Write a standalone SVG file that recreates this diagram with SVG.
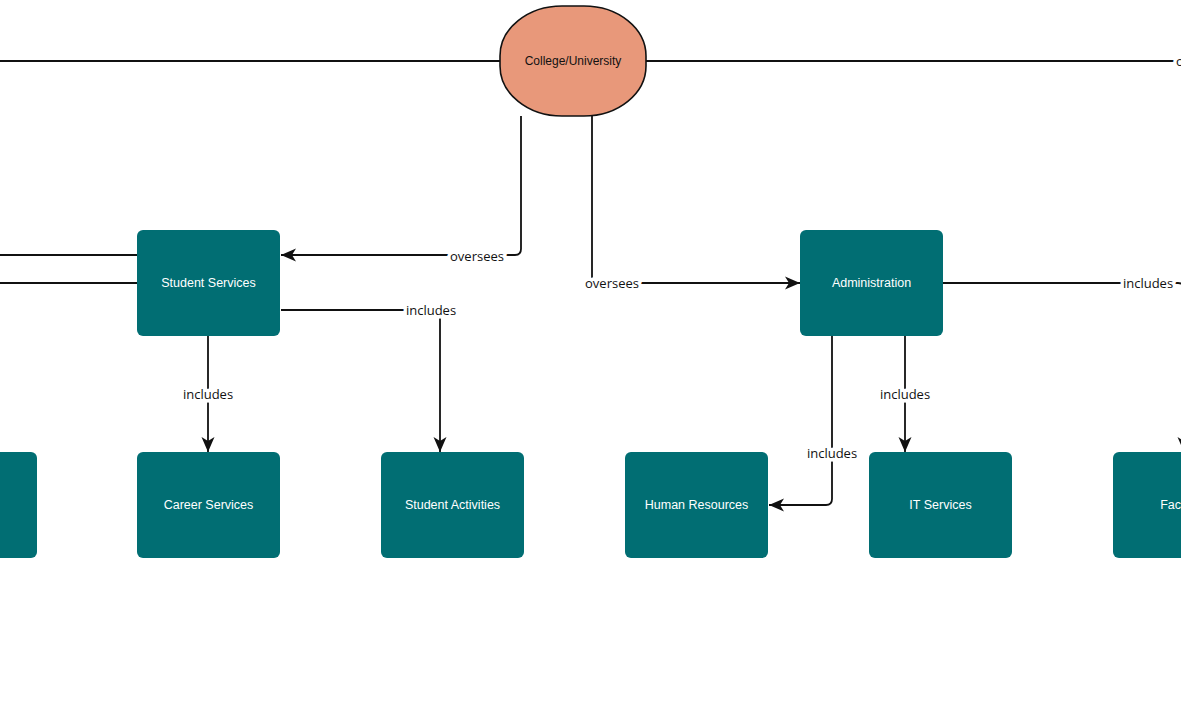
<svg xmlns="http://www.w3.org/2000/svg" width="1181" height="720" viewBox="0 0 1181 720">
<style>
.node{fill:#016e73;}
.ntxt{font-family:"Liberation Sans",Arial,sans-serif;font-size:12.5px;fill:#ffffff;text-anchor:middle;dominant-baseline:central;}
.edge{fill:none;stroke:#111111;stroke-width:1.8;}
.lbl{font-family:"Open Sans","Noto Sans",sans-serif;font-size:13px;fill:#111111;text-anchor:middle;dominant-baseline:central;paint-order:stroke;stroke:#ffffff;stroke-width:7px;stroke-linejoin:round;}
</style>
<defs>
<marker id="arr" markerUnits="userSpaceOnUse" markerWidth="16" markerHeight="16" viewBox="0 0 16 16" refX="15" refY="8" orient="auto">
<path d="M0,1.5 L15,8 L0,14.5 L4,8 Z" fill="#111111"/>
</marker>
</defs>
<rect width="1181" height="720" fill="#ffffff"/>
<g id="connectors">
<path class="edge" d="M0,61 H500"/>
<path class="edge" d="M646,61 H1174"/>
<path class="edge" d="M0,255 H137"/>
<path class="edge" d="M0,283 H137"/>
<path class="edge" d="M521,116 V249 Q521,255 515,255 H281" marker-end="url(#arr)"/>
<path class="edge" d="M592,116 V283 H800" marker-end="url(#arr)"/>
<path class="edge" d="M281,310 H434 Q440,310 440,316 V452" marker-end="url(#arr)"/>
<path class="edge" d="M208,336 V452" marker-end="url(#arr)"/>
<path class="edge" d="M905,336 V452" marker-end="url(#arr)"/>
<path class="edge" d="M832,336 V499 Q832,505 826,505 H769" marker-end="url(#arr)"/>
<path class="edge" d="M943,283 H1178 Q1184,283 1184,289 V452" marker-end="url(#arr)"/>
<text class="lbl" x="477" y="256">oversees</text>
<text class="lbl" x="612" y="283">oversees</text>
<text class="lbl" x="431" y="310">includes</text>
<text class="lbl" x="208" y="394">includes</text>
<text class="lbl" x="905" y="394">includes</text>
<text class="lbl" x="832" y="453">includes</text>
<text class="lbl" x="1148" y="283">includes</text>
<text class="lbl" x="1176" y="61" style="text-anchor:start">oversees</text>
</g>
<g id="college">
<rect x="500" y="6" width="146" height="110" rx="62" ry="50" fill="#e8987a" stroke="#111111" stroke-width="1.6"/>
<text x="573" y="61" style="font-family:'Liberation Sans',Arial,sans-serif;font-size:12px;fill:#111111;text-anchor:middle;dominant-baseline:central">College/University</text>
</g>
<g id="student-services">
<rect class="node" x="137" y="230" width="143" height="106" rx="6"/>
<text class="ntxt" x="208.5" y="283">Student Services</text>
</g>
<g id="administration">
<rect class="node" x="800" y="230" width="143" height="106" rx="6"/>
<text class="ntxt" x="871.5" y="283">Administration</text>
</g>
<g id="left-node">
<rect class="node" x="-106" y="452" width="143" height="106" rx="6"/>
</g>
<g id="career-services">
<rect class="node" x="137" y="452" width="143" height="106" rx="6"/>
<text class="ntxt" x="208.5" y="505">Career Services</text>
</g>
<g id="student-activities">
<rect class="node" x="381" y="452" width="143" height="106" rx="6"/>
<text class="ntxt" x="452.5" y="505">Student Activities</text>
</g>
<g id="human-resources">
<rect class="node" x="625" y="452" width="143" height="106" rx="6"/>
<text class="ntxt" x="696.5" y="505">Human Resources</text>
</g>
<g id="it-services">
<rect class="node" x="869" y="452" width="143" height="106" rx="6"/>
<text class="ntxt" x="940.5" y="505">IT Services</text>
</g>
<g id="facilities">
<rect class="node" x="1113" y="452" width="143" height="106" rx="6"/>
<text class="ntxt" x="1184.5" y="505">Facilities</text>
</g>
</svg>
